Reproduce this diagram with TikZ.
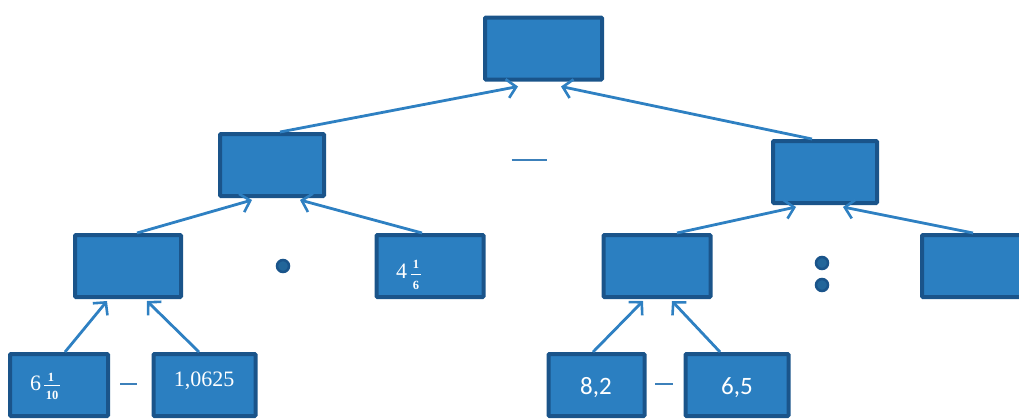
\documentclass[tikz,border=0pt]{standalone}
\usepackage{fontspec}
\setmainfont{Liberation Serif}
\newfontfamily\calib{Carlito}
\usetikzlibrary{arrows.meta}
\definecolor{boxfill}{RGB}{43,127,193}
\definecolor{boxdraw}{RGB}{26,84,138}
\definecolor{linecol}{RGB}{46,128,194}
\definecolor{opcol}{RGB}{60,128,186}
\tikzset{
  nbox/.style={rectangle, rounded corners=1pt, draw=boxdraw, fill=boxfill, line width=4pt, minimum height=62pt, inner sep=0pt},
  arr/.style={draw=linecol, line width=2.8pt, -{Straight Barb[length=9pt,width=19pt,line width=2.6pt]}},
  numtxt/.style={text=white, inner sep=0pt, font=\fontsize{22}{26}\selectfont},
  fractxt/.style={text=white, inner sep=0pt, anchor=base, font=\fontsize{12.5}{14}\selectfont\bfseries},
  fracbar/.style={draw=white, line width=0.8pt},
  sanstxt/.style={text=white, inner sep=0pt, font=\calib\fontsize{25}{30}\selectfont},
  opdot/.style={circle, draw=boxdraw, fill=boxfill!80!black, line width=2.5pt, minimum size=12pt, inner sep=0pt},
  opdash/.style={inner sep=0pt, text=opcol}
}
\begin{document}
\begin{tikzpicture}[x=1pt,y=1pt]
\useasboundingbox (0,0) rectangle (1019,-418);
\clip (0,0) rectangle (1019,-418);
% boxes
\node[nbox, minimum width=117pt] (T) at (543.5,-48.5) {};
\node[nbox, minimum width=104pt] (L1) at (272,-165) {};
\node[nbox, minimum width=104pt] (R1) at (825,-172) {};
\node[nbox, minimum width=106pt] (A) at (128,-266) {};
\node[nbox, minimum width=107pt] (B) at (430,-266) {};
\node[nbox, minimum width=107pt] (C) at (657,-266) {};
\node[nbox, minimum width=107pt] (D) at (975.5,-266) {};
\node[nbox, minimum width=98pt] (E) at (59,-385) {};
\node[nbox, minimum width=102pt] (F) at (204.5,-385) {};
\node[nbox, minimum width=96pt] (G) at (596.5,-385) {};
\node[nbox, minimum width=103pt] (H) at (737,-385) {};
% texts
\node[numtxt, anchor=base west] (Et) at (30,-390) {6};
\node[fractxt] (Enum) at (51,-381) {1};
\node[fractxt] (Eden) at (52,-399.5) {10};
\draw[fracbar] (44,-385.5) -- (60,-385.5);
\node[numtxt, anchor=base] (Ft) at (204,-386.5) {1,0625};
\node[numtxt, anchor=base west] (Bt) at (396,-278) {4};
\node[fractxt] (Bnum) at (416,-268) {1};
\node[fractxt] (Bden) at (416,-289.5) {6};
\draw[fracbar] (411,-274) -- (421,-274);
\node[sanstxt, anchor=base] (Gt) at (596,-394) {8,2};
\node[sanstxt, anchor=base] (Ht) at (737,-394) {6,5};
% operators
\node[opdash] (m1) at (529,-160) {\rule{35pt}{2.8pt}};
\node[opdash] (m2) at (128.5,-384) {\rule{17pt}{2.4pt}};
\node[opdash] (m3) at (664,-384) {\rule{18pt}{2.4pt}};
\node[opdot] (d1) at (283,-266) {};
\node[opdot] (c1) at (822,-263) {};
\node[opdot] (c2) at (822,-285) {};
% arrows
\draw[arr] ([xshift=6pt]E.north) -- ([xshift=-21pt,yshift=-2pt]A.south);
\draw[arr] ([xshift=-5.5pt]F.north) -- ([xshift=19pt,yshift=-2pt]A.south);
\draw[arr] ([xshift=9pt]A.north) -- ([xshift=-20pt,yshift=-2pt]L1.south);
\draw[arr] ([xshift=-8pt]B.north) -- ([xshift=28pt,yshift=-2pt]L1.south);
\draw[arr] ([xshift=8pt]L1.north) -- ([xshift=-25.5pt,yshift=-5pt]T.south);
\draw[arr] ([xshift=-13pt]R1.north) -- ([xshift=17.5pt,yshift=-5pt]T.south);
\draw[arr] ([xshift=20pt]C.north) -- ([xshift=-29pt,yshift=-2pt]R1.south);
\draw[arr] ([xshift=-2.5pt]D.north) -- ([xshift=18pt,yshift=-2pt]R1.south);
\draw[arr] ([xshift=-3.5pt]G.north) -- ([xshift=-14pt,yshift=-2pt]C.south);
\draw[arr] ([xshift=-17pt]H.north) -- ([xshift=15pt,yshift=-2pt]C.south);
\end{tikzpicture}
\end{document}
